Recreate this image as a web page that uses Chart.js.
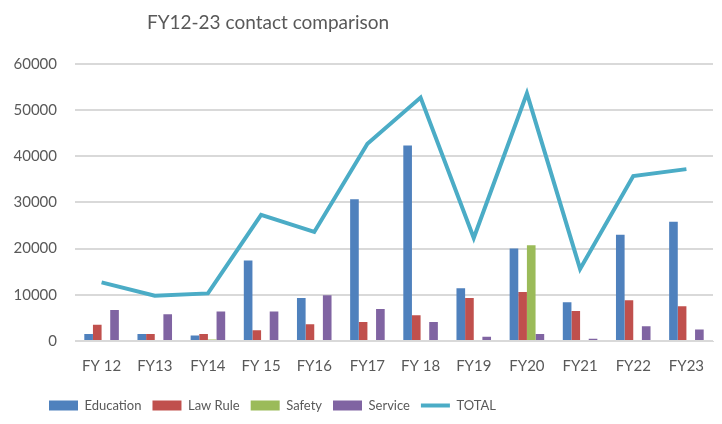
<!DOCTYPE html>
<html>
<head>
<meta charset="utf-8">
<script src="https://cdn.jsdelivr.net/npm/chart.js@4/dist/chart.umd.min.js"></script>
<style>
  html, body { margin: 0; padding: 0; background: #fff; }
  #wrap { width: 722px; height: 424px; }
</style>
</head>
<body>
<div id="wrap"><canvas id="contactChart"></canvas></div>
<script>
const years = ['FY 12', 'FY13', 'FY14', 'FY 15', 'FY16', 'FY17', 'FY 18', 'FY19', 'FY20', 'FY21', 'FY22', 'FY23'];
const education = [1500, 1500, 1200, 17400, 9300, 30700, 42300, 11400, 20000, 8400, 23000, 25800];
const lawRule = [3500, 1500, 1500, 2300, 3600, 4100, 5600, 9300, 10600, 6500, 8800, 7500];
const safety = [0, 200, 300, 0, 0, 0, 0, 0, 20700, 0, 0, 0];
const service = [6700, 5800, 6400, 6400, 9900, 6900, 4100, 900, 1500, 500, 3200, 2500];
const total = [12700, 9800, 10300, 27300, 23600, 42700, 52700, 22300, 53600, 15600, 35700, 37200];
const yTicks = [0, 10000, 20000, 30000, 40000, 50000, 60000];

const fontName = 'Lato, "Open Sans", sans-serif';
const textGrey = '#595959';
const legendPad = 11;

// title and legend sit left of the canvas centre in the original
const titleCentre = 268;
const legendStart = 49;
const offCentre = {
    id: 'offCentre',
    afterLayout(chart) {
        chart.titleBlock.left = 0;
        chart.titleBlock.right = titleCentre * 2;
        chart.legend.left = legendStart - legendPad;
    }
};

function barSet(label, data, color) {
    return {
        type: 'bar',
        label: label,
        data: data,
        backgroundColor: color,
        borderWidth: 0,
        categoryPercentage: 0.65,
        barPercentage: 1.0,
        order: 1
    };
}

let contactChart = new Chart(document.getElementById('contactChart'), {
    data: {
        labels: years,
        datasets: [
            barSet('Education', education, '#4F81BD'),
            barSet('Law Rule', lawRule, '#C0504D'),
            barSet('Safety', safety, '#9BBB59'),
            barSet('Service', service, '#8064A2'),
            {
                type: 'line',
                label: 'TOTAL',
                data: total,
                borderColor: '#4BACC6',
                backgroundColor: '#4BACC6',
                borderWidth: 4,
                pointRadius: 0,
                tension: 0,
                order: 0
            }
        ]
    },
    plugins: [offCentre],
    options: {
        responsive: true,
        maintainAspectRatio: false,
        animation: false,
        layout: {
            padding: { left: 6, right: 9, top: 8, bottom: 2 }
        },
        plugins: {
            title: {
                display: true,
                text: 'FY12-23 contact comparison',
                color: textGrey,
                font: { family: fontName, size: 19, weight: 'normal' },
                padding: { top: 3, bottom: 30 }
            },
            legend: {
                position: 'bottom',
                align: 'start',
                labels: {
                    color: textGrey,
                    font: { family: fontName, size: 13 },
                    usePointStyle: true,
                    pointStyleWidth: 29,
                    boxHeight: 10,
                    padding: legendPad,
                    sort: (a, b) => a.datasetIndex - b.datasetIndex,
                    generateLabels: function (chart) {
                        let items = Chart.defaults.plugins.legend.labels.generateLabels(chart);
                        items.forEach(item => {
                            item.pointStyle = item.datasetIndex === 4 ? 'line' : 'rect';
                        });
                        return items;
                    }
                }
            },
            tooltip: { enabled: false }
        },
        scales: {
            x: {
                grid: { display: false },
                border: { color: '#D9D9D9' },
                afterFit: function (axis) {
                    axis.height += 5;
                },
                ticks: {
                    color: textGrey,
                    font: { family: fontName, size: 15 },
                    padding: 8
                }
            },
            y: {
                min: yTicks[0],
                max: yTicks[yTicks.length - 1],
                afterBuildTicks: function (axis) {
                    axis.ticks = yTicks.map(v => ({ value: v }));
                },
                afterFit: function (axis) {
                    axis.width = 69;
                },
                grid: { color: '#D9D9D9', lineWidth: 2, drawTicks: false },
                border: { display: false },
                ticks: {
                    color: textGrey,
                    font: { family: fontName, size: 15 },
                    padding: 18,
                    callback: value => String(value)
                }
            }
        }
    }
});
</script>
</body>
</html>
